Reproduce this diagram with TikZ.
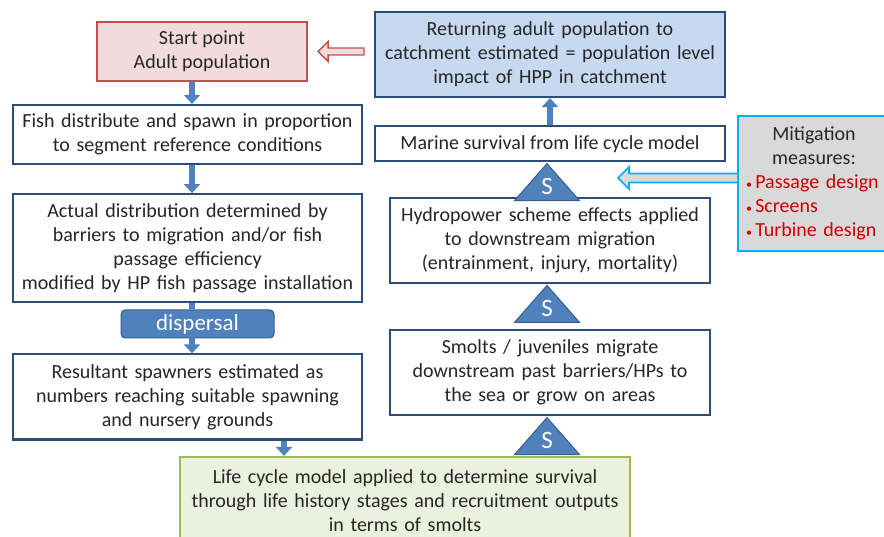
\documentclass[tikz,border=0pt]{standalone}
\usepackage{fontspec}
\setmainfont{Carlito}
\usetikzlibrary{arrows.meta,positioning,shapes.geometric,calc}
\definecolor{boxline}{HTML}{2C4D7A}
\definecolor{arrowblue}{HTML}{4F81BD}
\definecolor{arrowedge}{HTML}{385D8A}
\definecolor{skyfill}{HTML}{C6D9F1}
\definecolor{redline}{HTML}{C0504D}
\definecolor{pinkfill}{HTML}{F2DCDB}
\definecolor{greenline}{HTML}{9BBB59}
\definecolor{greenfill}{HTML}{EBF1DE}
\definecolor{greyfill}{HTML}{D9D9D9}
\definecolor{cyanline}{HTML}{00B0F0}
\definecolor{bulletred}{HTML}{D00000}
\definecolor{textgrey}{HTML}{262626}

\newcommand{\redbullet}[1]{\makebox[136pt][l]{\textcolor{bulletred}{{\fontsize{12}{12}\selectfont\textbullet}\,#1}}}

\begin{document}
\begin{tikzpicture}[
  x=1pt, y=1pt,
  font=\fontsize{20}{24}\selectfont,
  text=textgrey,
  box/.style={draw=boxline, line width=2.2pt, fill=white, align=center, inner sep=2pt},
  widebox/.style={box, minimum width=349pt, text width=340pt},
  rightbox/.style={box, minimum width=320pt, text width=312pt, minimum height=85pt},
  stri/.style={isosceles triangle, isosceles triangle stretches, shape border rotate=90, fill=arrowblue, draw=arrowedge, line width=1pt, minimum width=65pt, minimum height=37pt, inner sep=0pt, text=white, font=\fontsize{25}{25}\selectfont},
  blockarrow/.style={-{Triangle[length=9pt,width=16pt]}, line width=6.5pt, draw=arrowblue},
  shaft/.style={line width=6.5pt, draw=arrowblue},
  hollowred/.style={draw=redline, fill=pinkfill, line width=1.3pt, line join=miter},
  hollowcyan/.style={draw=cyanline, fill=greyfill, line width=1.6pt, line join=miter}
]
  \useasboundingbox (0,0) rectangle (884,-537);

  % left column
  \node[box, draw=redline, fill=pinkfill, minimum width=210pt, minimum height=59pt] (start) at (202,-51.5) {Start point\\Adult population};
  \node[widebox, minimum height=59pt] (fish) at (187.5,-134.5) {Fish distribute and spawn in proportion\\to segment reference conditions};
  \node[widebox, minimum height=108pt, below=28pt of fish] (actual) {Actual distribution determined by\\barriers to migration and/or fish\\passage efficiency\\modified by HP fish passage installation};
  \node[widebox, minimum height=85pt, below=50pt of actual] (result) {Resultant spawners estimated as\\numbers reaching suitable spawning\\and nursery grounds};
  \node[box, draw=arrowedge, fill=arrowblue, text=white, rounded corners=4pt, line width=1pt, minimum width=153pt, minimum height=28pt, font=\fontsize{23}{23}\selectfont] (disp) at (197.5,-324) {dispersal};

  % bottom
  \node[box, draw=greenline, fill=greenfill, minimum width=450pt, minimum height=88pt, text width=440pt] (life) at (405,-501) {Life cycle model applied to determine survival\\through life history stages and recruitment outputs\\in terms of smolts};

  % right column
  \node[box, fill=skyfill, minimum width=350pt, minimum height=85pt, text width=340pt] (ret) at (550,-54.5) {Returning adult population to\\catchment estimated = population level\\impact of HPP in catchment};
  \node[box, minimum width=350pt, minimum height=35pt, below=27pt of ret] (marine) {Marine survival from life cycle model};
  \node[rightbox] (hydro) at (550,-240.5) {Hydropower scheme effects applied\\to downstream migration\\(entrainment, injury, mortality)};
  \node[rightbox, below=45pt of hydro] (smolt) {Smolts / juveniles migrate\\downstream past barriers/HPs to\\the sea or grow on areas};

  \node[stri, anchor=apex] (s1) at ([xshift=-3pt]marine.south) {S};
  \node[stri, anchor=apex] (s2) at ([xshift=-3pt]hydro.south) {S};
  \node[stri, anchor=apex] (s3) at ([xshift=-3pt]smolt.south) {S};

  \node[box, draw=cyanline, fill=greyfill, line width=2pt, minimum width=152pt, minimum height=135pt, text width=146pt] (mitig) at (814,-183.5) {Mitigation\\measures:\\\redbullet{Passage design}\\\redbullet{Screens}\\\redbullet{Turbine design}};

  \coordinate (lx) at (192,0);
  \coordinate (rx) at (284,0);
  \coordinate (mtip) at (618,-178);
  \coordinate (rtail) at ($(start.east -| ret.west)+(-10,0)$);
  \coordinate (rhead) at ($(start.east)+(10,0)$);

  % connectors
  \draw[blockarrow] (start.south -| lx) -- (fish.north -| lx);
  \draw[blockarrow] (fish.south -| lx) -- (actual.north -| lx);
  \draw[shaft] (actual.south -| lx) -- (disp.north -| lx);
  \draw[blockarrow] (disp.south -| lx) -- (result.north -| lx);
  \draw[blockarrow] (result.south -| rx) -- (life.north -| rx);
  \draw[blockarrow] (marine.north) -- (ret.south);

  % hollow arrows
  \draw[hollowred] ($(rtail)+(0,3.5)$) -- ($(rhead)+(10,3.5)$) -- ($(rhead)+(10,10)$) -- (rhead)
    -- ($(rhead)+(10,-10)$) -- ($(rhead)+(10,-3.5)$) -- ($(rtail)+(0,-3.5)$) -- cycle;
  \draw[hollowcyan] ($(mtip -| mitig.west)+(0,4.5)$) -- ($(mtip)+(11,4.5)$) -- ($(mtip)+(11,11)$) -- (mtip)
    -- ($(mtip)+(11,-11)$) -- ($(mtip)+(11,-4.5)$) -- ($(mtip -| mitig.west)+(0,-4.5)$);
\end{tikzpicture}
\end{document}
